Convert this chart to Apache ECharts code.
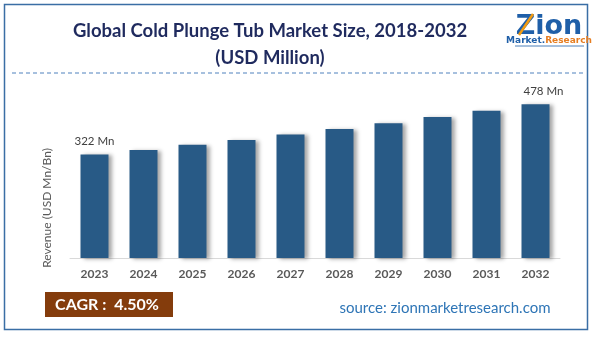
<!DOCTYPE html>
<html><head><meta charset="utf-8">
<script src="https://cdn.jsdelivr.net/npm/echarts@6/dist/echarts.min.js"></script>
<style>html,body{margin:0;padding:0;background:#fff}#c{width:598px;height:337px}</style>
</head><body><div id="c"></div>
<script>
const categories = ['2023','2024','2025','2026','2027','2028','2029','2030','2031','2032'];
const revenue = [322, 336, 352, 367, 384, 401, 419, 438, 458, 478];
const labelText = {0: '322 Mn', 9: '478 Mn'};
const titleLine1 = 'Global Cold Plunge Tub Market Size, 2018-2032';
const titleLine2 = '(USD Million)';
const yAxisTitle = 'Revenue (USD Mn/Bn)';
const cagrText = 'CAGR :  4.50%';
const sourceText = 'source: zionmarketresearch.com';

const chart = echarts.init(document.getElementById('c'), null, {renderer: 'canvas'});
const fontF = 'Lato, "Open Sans", sans-serif';
chart.setOption({
  animation: false,
  grid: {left: 70, right: 38, top: 65, bottom: 79},
  xAxis: {
    type: 'category', data: categories,
    axisLine: {lineStyle: {color: '#d9d9d9', width: 1}},
    axisTick: {show: false},
    axisLabel: {color: '#595959', fontWeight: 'bold', fontSize: 12, fontFamily: fontF, margin: 10}
  },
  yAxis: {
    type: 'value', min: 0, max: 600, show: false, splitLine: {show: false}
  },
  series: [{
    type: 'bar', data: revenue, barWidth: 28,
    itemStyle: {color: '#285a86', shadowColor: 'rgba(0,0,0,0.35)', shadowBlur: 4, shadowOffsetX: 3, shadowOffsetY: 1},
    label: {
      show: true, position: 'top', color: '#404040', fontSize: 11.5, fontFamily: fontF, distance: 7,
      formatter: p => labelText[p.dataIndex] || ''
    },
    labelLayout: p => p.dataIndex === 9 ? {dx: 8} : {}
  }],
  graphic: [
    {type: 'rect', shape: {x: 4.5, y: 4.5, width: 583, height: 325}, style: {fill: 'none', stroke: '#3a6ea5', lineWidth: 1.5}, silent: true},
    {type: 'text', x: 270, y: 31, style: {text: titleLine1, fill: '#1f2a5e', font: 'bold 18.5px ' + fontF, textAlign: 'center', textVerticalAlign: 'middle'}},
    {type: 'text', x: 270, y: 58, style: {text: titleLine2, fill: '#1f2a5e', font: 'bold 18.5px ' + fontF, textAlign: 'center', textVerticalAlign: 'middle'}},
    {type: 'line', shape: {x1: 12, y1: 73, x2: 583, y2: 73}, style: {stroke: '#4f81bd', lineWidth: 1, lineDash: [4, 3]}},
    {type: 'text', x: 47, y: 208, rotation: Math.PI / 2, style: {text: yAxisTitle, fill: '#595959', font: '12px ' + fontF, textAlign: 'center', textVerticalAlign: 'middle'}},
    {type: 'rect', shape: {x: 45, y: 292, width: 128, height: 25}, style: {fill: '#843c0c'}},
    {type: 'text', x: 107, y: 305, style: {text: cagrText, fill: '#ffffff', font: 'bold 16px ' + fontF, textAlign: 'center', textVerticalAlign: 'middle'}},
    {type: 'text', x: 445, y: 308, style: {text: sourceText, fill: '#2e75b6', font: '15px ' + fontF, textAlign: 'center', textVerticalAlign: 'middle'}},
    // logo
    {type: 'text', x: 549, y: 27, style: {text: 'Zion', fill: '#1f5fa8', font: 'bold 27px "DejaVu Sans", sans-serif', textAlign: 'center', textVerticalAlign: 'middle'}},
    {type: 'line', shape: {x1: 519, y1: 35, x2: 533, y2: 14}, style: {stroke: '#f39c12', lineWidth: 2.5}},
    {type: 'text', x: 549, y: 41, style: {rich: {a: {fill: '#1f5fa8', font: 'bold 9px "DejaVu Sans", sans-serif'}, b: {fill: '#e67e22', font: 'bold 9px "DejaVu Sans", sans-serif'}}, text: '{a|Market.}{b|Research}', textAlign: 'center', textVerticalAlign: 'middle'}},
    {type: 'line', shape: {x1: 515, y1: 46, x2: 584, y2: 46}, style: {stroke: '#1f5fa8', lineWidth: 0.8}}
  ]
});
</script></body></html>
